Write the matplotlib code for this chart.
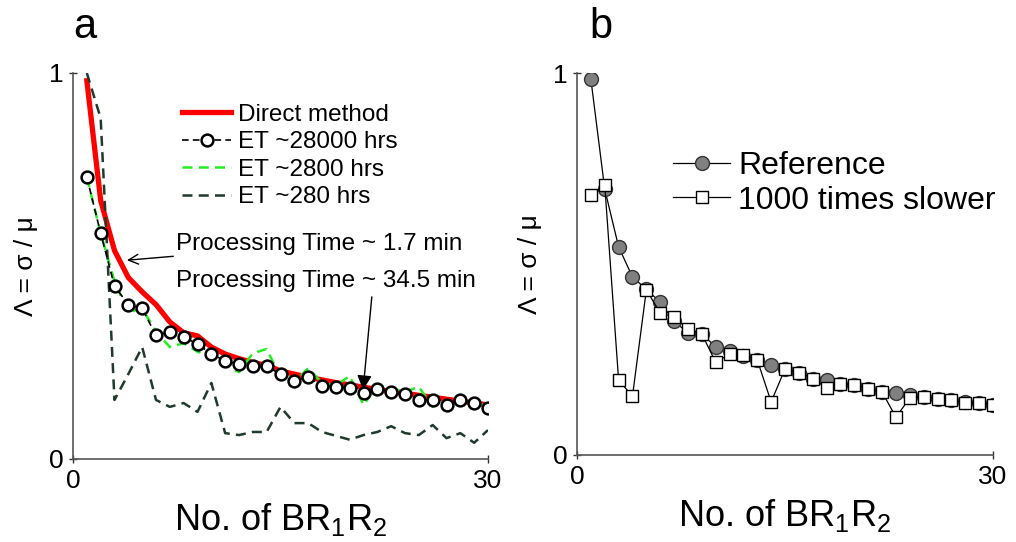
#libraries
import numpy as np
import matplotlib
matplotlib.use('Agg')
import matplotlib.pyplot as plt

plt.rcParams['font.family'] = ['Liberation Sans', 'DejaVu Sans']
plt.rcParams['mathtext.fontset'] = 'custom'
plt.rcParams['mathtext.rm'] = 'Liberation Sans'
plt.rcParams['mathtext.it'] = 'Liberation Sans'

# data
n = np.arange(1, 31)

direct = [0.98, 0.67, 0.54, 0.47, 0.433, 0.40, 0.355, 0.327, 0.319, 0.29,
          0.272, 0.26, 0.25, 0.243, 0.228, 0.22, 0.212, 0.205, 0.198, 0.192,
          0.186, 0.18, 0.175, 0.17, 0.165, 0.16, 0.155, 0.15, 0.145, 0.14]
et_28000 = [0.73, 0.585, 0.448, 0.40, 0.39, 0.32, 0.33, 0.316, 0.298, 0.272,
            0.254, 0.246, 0.24, 0.24, 0.22, 0.202, 0.212, 0.189, 0.187, 0.184,
            0.171, 0.181, 0.174, 0.168, 0.153, 0.153, 0.14, 0.153, 0.145, 0.132]
et_2800 = [0.73, 0.585, 0.46, 0.38, 0.39, 0.33, 0.29, 0.30, 0.278, 0.265,
           0.243, 0.225, 0.274, 0.285, 0.212, 0.20, 0.235, 0.197, 0.19, 0.215,
           0.14, 0.19, 0.184, 0.174, 0.187, 0.135, 0.153, 0.148, 0.145, 0.137]
et_280 = [1.0, 0.883, 0.153, 0.22, 0.29, 0.153, 0.135, 0.145, 0.122, 0.197,
          0.067, 0.062, 0.07, 0.07, 0.135, 0.093, 0.093, 0.07, 0.06, 0.05,
          0.062, 0.07, 0.085, 0.067, 0.062, 0.088, 0.054, 0.067, 0.042, 0.075]

reference = [0.984, 0.696, 0.545, 0.466, 0.434, 0.40, 0.35, 0.32, 0.317, 0.283,
             0.272, 0.259, 0.249, 0.236, 0.225, 0.215, 0.20, 0.196, 0.186, 0.183,
             0.173, 0.165, 0.162, 0.157, 0.152, 0.147, 0.144, 0.139, 0.136, 0.131]
slower = [0.68, 0.707, 0.196, 0.154, 0.432, 0.372, 0.361, 0.33, 0.317, 0.243,
          0.264, 0.262, 0.249, 0.139, 0.225, 0.215, 0.20, 0.175, 0.186, 0.183,
          0.173, 0.165, 0.099, 0.149, 0.152, 0.147, 0.144, 0.136, 0.136, 0.131]

xlabel = r'No. of BR$_1$R$_2$'
ylabel = 'Λ = σ / μ'

#
def style_axes(ax):
    ax.set_xlim(0, 30)
    ax.set_ylim(0, 1)
    ax.set_xticks([0, 30])
    ax.set_yticks([0, 1])
    ax.set_xticklabels(['0', '30'])
    ax.set_yticklabels(['0', '1'])
    for s in ['top', 'right']:
        ax.spines[s].set_visible(False)
    for s in ['left', 'bottom']:
        ax.spines[s].set_color('#555555')
        ax.spines[s].set_linewidth(1.2)
    ax.tick_params(direction='inout', length=6, width=1, colors='#333333',
                   labelcolor='black', labelsize=19, pad=4)
    ax.set_xlabel(xlabel, fontsize=26, labelpad=6)
    ax.set_ylabel(ylabel, fontsize=19, labelpad=8)


fig = plt.figure(figsize=(10.16, 5.42), dpi=100)
ax1 = fig.add_axes([73/1016, 83/542, 415/1016, 386/542])
ax2 = fig.add_axes([577/1016, 87/542, 416/1016, 382/542])

# panel a
ax1.plot(n, direct, color='red', lw=3.8, label='Direct method', zorder=2)
ax1.plot(n, et_2800, color='#22ee22', lw=1.8, ls=(0, (4, 2.5)), zorder=3)
ax1.plot(n, et_28000, color='black', lw=1.2, ls=(0, (4, 2.5)), marker='o',
         ms=8.5, mfc='white', mec='black', mew=1.8, label='ET ~28000 hrs', zorder=4)
ax1.plot(n, et_2800, color='#22ee22', lw=1.8, ls=(0, (4, 2.5)), alpha=0,
         label='ET ~2800 hrs')
ax1.plot(n, et_280, color='#1e3b2c', lw=1.8, ls=(0, (4, 2.5)),
         label='ET ~280 hrs', zorder=3)
style_axes(ax1)
handles, labels = ax1.get_legend_handles_labels()
leg1 = ax1.legend(handles, labels, loc='upper left', bbox_to_anchor=(0.24, 0.945),
                  frameon=False, fontsize=17.5, handlelength=2.0, handletextpad=0.3,
                  labelspacing=0.22, borderaxespad=0)
for h in leg1.legend_handles:
    h.set_alpha(1)

ax1.annotate('Processing Time ~ 1.7 min', xy=(3.9, 0.515), xytext=(7.45, 0.557),
             fontsize=17.5, va='center', ha='left',
             arrowprops=dict(arrowstyle='->', color='black', lw=1,
                             shrinkA=0, shrinkB=0))
ax1.annotate('Processing Time ~ 34.5 min', xy=(20.97, 0.179), xytext=(7.45, 0.46),
             fontsize=17.5, va='center', ha='left')
ax1.annotate('', xy=(20.97, 0.179), xytext=(21.6, 0.42),
             arrowprops=dict(arrowstyle='-|>', color='black', lw=1,
                             mutation_scale=22, shrinkA=0, shrinkB=0))
ax1.text(0.0, 1.12, 'a', transform=ax1.transAxes, fontsize=30, ha='left', va='center')

# panel b
ax2.plot(n, reference, color='black', lw=0.9, marker='o', ms=10, mfc='#808080',
         mec='#333333', mew=1, label='Reference', zorder=3)
ax2.plot(n, slower, color='black', lw=0.9, marker='s', ms=9, mfc='white',
         mec='black', mew=1, label='1000 times slower', zorder=4)
style_axes(ax2)
ax2.legend(loc='upper left', bbox_to_anchor=(0.2, 0.83), frameon=False,
           fontsize=23, handlelength=1.8, handletextpad=0.25, labelspacing=0.15,
           borderaxespad=0)
ax2.text(0.03, 1.12, 'b', transform=ax2.transAxes, fontsize=30, ha='left', va='center')

fig.savefig('out.png', dpi=100)
